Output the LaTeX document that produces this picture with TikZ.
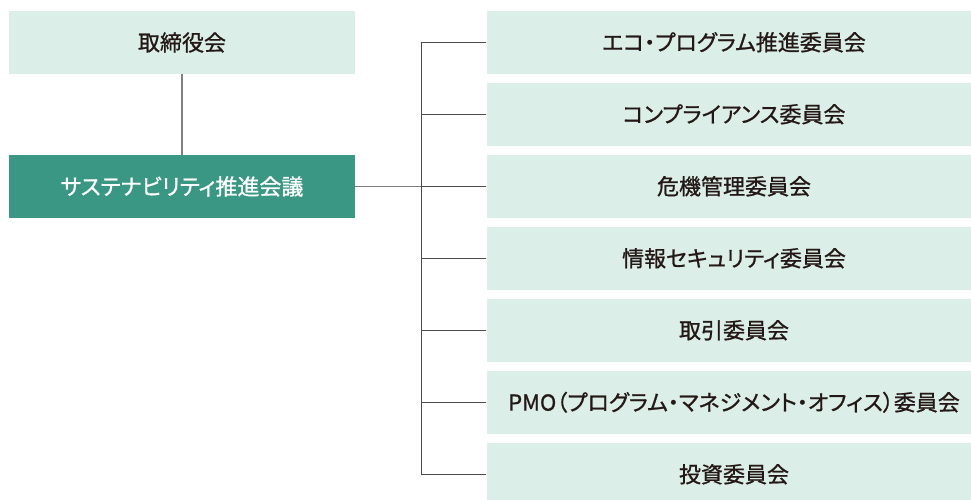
\documentclass[tikz,border=0pt]{standalone}
\usepackage{fontspec}
\setmainfont{Noto Sans CJK JP}[RawFeature=+palt,FakeBold=0.9]
\definecolor{lightbox}{HTML}{DCEEE8}
\definecolor{darkbox}{HTML}{3A9784}
\definecolor{txt}{HTML}{231815}
\definecolor{lnA}{HTML}{7F7F7F}
\definecolor{lnB}{HTML}{4A4A4A}
\begin{document}
\begin{tikzpicture}[x=1pt,y=-1pt,
  lbox/.style={rectangle,fill=lightbox,text=txt,minimum width=346pt,minimum height=63pt,inner sep=0pt,font=\fontsize{22}{26}\selectfont},
  dbox/.style={lbox,fill=darkbox,text=white},
  rbox/.style={lbox,minimum width=495pt,minimum height=62.5pt},
  conA/.style={draw=lnA,line width=1.3pt},
  conB/.style={draw=lnB,line width=1pt}]
\clip (0,0) rectangle (971,499);
\fill[white] (0,0) rectangle (971,499);
\node[lbox] (A) at (182,42.5) {取締役会};
\node[dbox] (B) at (182,186.5) {サステナビリティ推進会議};
\node[rbox] (C1) at (734,42.25) {エコ・プログラム推進委員会};
\node[rbox] (C2) at (734,114.25) {コンプライアンス委員会};
\node[rbox] (C3) at (734,186.25) {危機管理委員会};
\node[rbox] (C4) at (734,258.25) {情報セキュリティ委員会};
\node[rbox] (C5) at (734,330.25) {取引委員会};
\node[rbox] (C6) at (734,402.25) {PMO（プログラム・マネジメント・オフィス）委員会};
\node[rbox] (C7) at (734,474.25) {投資委員会};
\coordinate (trunk) at (421,0);
\draw[conA] (A.south) -- (B.north);
\draw[conA] (B.east) -- (B.east -| trunk);
\draw[conB] (C1.west) -- (C1.west -| trunk) -- (C7.west -| trunk) -- (C7.west);
\foreach \i in {2,...,6} \draw[conB] (C\i.west) -- (C\i.west -| trunk);
\end{tikzpicture}
\end{document}
